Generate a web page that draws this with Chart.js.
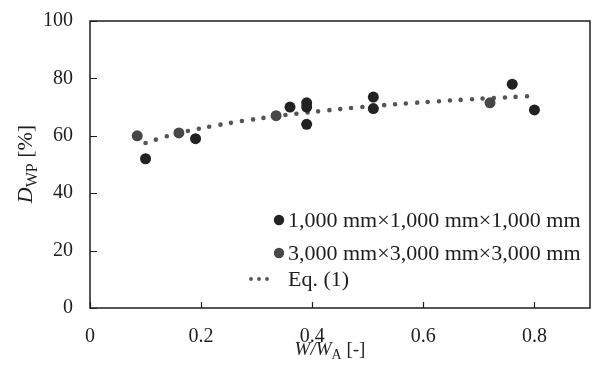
<!DOCTYPE html>
<html>
<head>
<meta charset="utf-8">
<script src="https://cdn.jsdelivr.net/npm/chart.js@4.4.1/dist/chart.umd.min.js"></script>
<style>
  html, body { margin: 0; padding: 0; background: #fff; }
  #wrap { width: 596px; height: 369px; }
</style>
</head>
<body>
<div id="wrap"><canvas id="dwpChart"></canvas></div>
<script>
// datos
const smallLabel = "1,000 mm×1,000 mm×1,000 mm";
const smallX = [0.10, 0.19, 0.36, 0.39, 0.39, 0.39, 0.51, 0.51, 0.76, 0.80];
const smallY = [52, 59, 70, 71.5, 70, 64, 73.5, 69.5, 78, 69];

const largeLabel = "3,000 mm×3,000 mm×3,000 mm";
const largeX = [0.085, 0.16, 0.335, 0.72];
const largeY = [60, 61, 67, 71.5];

const eqLabel = "Eq. (1)";
const eqX = [0.10, 0.15, 0.20, 0.25, 0.30, 0.35, 0.40, 0.45, 0.50, 0.55, 0.60, 0.65, 0.70, 0.75, 0.80];
const eqY = [57.5, 60.5, 62.6, 64.4, 65.9, 67.2, 68.3, 69.3, 70.2, 71.0, 71.7, 72.3, 72.9, 73.4, 73.9];

const xTicks = [0, 0.2, 0.4, 0.6, 0.8];
const yTicks = [0, 20, 40, 60, 80, 100];

const SERIF = "'Liberation Serif', 'Times New Roman', serif";
const INK = "#1e1e1e";

function toPoints(xs, ys) {
    return xs.map((x, i) => ({ x: x, y: ys[i] }));
}

// marco, marcas hacia dentro, titulos de ejes y leyenda
const decorPlugin = {
    id: "decor",
    afterDraw(chart) {
        const ctx = chart.ctx;
        const a = chart.chartArea;
        const xs = chart.scales.x;
        const ys = chart.scales.y;
        ctx.save();
        ctx.strokeStyle = INK;
        ctx.lineWidth = 1.5;
        ctx.strokeRect(a.left, a.top, a.right - a.left, a.bottom - a.top);

        ctx.lineWidth = 1.2;
        ctx.beginPath();
        yTicks.forEach(v => {
            const py = Math.round(ys.getPixelForValue(v)) + 0.5;
            ctx.moveTo(a.left, py);
            ctx.lineTo(a.left + 7, py);
        });
        xTicks.forEach(v => {
            const px = Math.round(xs.getPixelForValue(v)) + 0.5;
            ctx.moveTo(px, a.bottom);
            ctx.lineTo(px, a.bottom - 6);
        });
        ctx.stroke();

        ctx.fillStyle = INK;
        ctx.textBaseline = "alphabetic";

        // titulo eje x: W/W_A [-]
        const xParts = [
            { t: "W/W", f: "italic 19px " + SERIF, dy: 0 },
            { t: "A", f: "14px " + SERIF, dy: 4 },
            { t: " [-]", f: "19px " + SERIF, dy: 0 }
        ];
        drawParts(ctx, xParts, 330, 355);

        // titulo eje y: D_WP [%]
        ctx.save();
        ctx.translate(32, 164);
        ctx.rotate(-Math.PI / 2);
        const yParts = [
            { t: "D", f: "italic 22px " + SERIF, dy: 0 },
            { t: "WP", f: "16px " + SERIF, dy: 5 },
            { t: " [%]", f: "22px " + SERIF, dy: 0 }
        ];
        drawParts(ctx, yParts, 0, 0);
        ctx.restore();

        // leyenda
        const lx = 288;
        const rows = [220, 253, 279];
        ctx.font = "22px " + SERIF;
        ctx.textBaseline = "middle";
        chart.data.datasets.forEach((ds, i) => {
            const y = rows[i];
            if (ds.showLine) {
                ctx.fillStyle = ds.borderColor;
                [251, 259, 267].forEach(dx => {
                    ctx.beginPath();
                    ctx.arc(dx, y, 1.9, 0, Math.PI * 2);
                    ctx.fill();
                });
            } else {
                ctx.fillStyle = ds.backgroundColor;
                ctx.beginPath();
                ctx.arc(lx - 9, y, 5.2, 0, Math.PI * 2);
                ctx.fill();
            }
            ctx.fillStyle = INK;
            ctx.fillText(ds.label, lx, y + 1);
        });
        ctx.restore();
    }
};

function drawParts(ctx, parts, cx, baseY) {
    let total = 0;
    parts.forEach(p => { ctx.font = p.f; total += ctx.measureText(p.t).width; });
    let x = cx - total / 2;
    parts.forEach(p => {
        ctx.font = p.f;
        ctx.fillText(p.t, x, baseY + p.dy);
        x += ctx.measureText(p.t).width;
    });
}

const ctx = document.getElementById("dwpChart").getContext("2d");
const dwpChart = new Chart(ctx, {
    type: "scatter",
    data: {
        datasets: [
            {
                label: smallLabel,
                data: toPoints(smallX, smallY),
                backgroundColor: "#222222",
                borderColor: "#222222",
                pointRadius: 5.5,
                pointBorderWidth: 0
            },
            {
                label: largeLabel,
                data: toPoints(largeX, largeY),
                backgroundColor: "#474747",
                borderColor: "#474747",
                pointRadius: 5.5,
                pointBorderWidth: 0
            },
            {
                label: eqLabel,
                data: toPoints(eqX, eqY),
                showLine: true,
                pointRadius: 0,
                borderColor: "#555555",
                borderWidth: 4.6,
                borderDash: [0, 11],
                borderCapStyle: "round",
                tension: 0.3
            }
        ]
    },
    options: {
        responsive: true,
        maintainAspectRatio: false,
        animation: false,
        events: [],
        layout: { padding: { left: 0, right: 6, top: 18, bottom: 0 } },
        plugins: {
            legend: { display: false },
            tooltip: { enabled: false }
        },
        scales: {
            x: {
                type: "linear",
                min: 0,
                max: 0.9,
                grid: { display: false },
                border: { display: false },
                afterBuildTicks: s => { s.ticks = xTicks.map(v => ({ value: v })); },
                afterFit: s => { s.height = 61; },
                ticks: {
                    padding: 9,
                    color: INK,
                    font: { family: SERIF, size: 20 },
                    callback: v => String(v)
                }
            },
            y: {
                min: 0,
                max: 100,
                grid: { display: false },
                border: { display: false },
                afterBuildTicks: s => { s.ticks = yTicks.map(v => ({ value: v })); },
                afterFit: s => { s.width = 90; },
                ticks: {
                    padding: 9,
                    color: INK,
                    font: { family: SERIF, size: 20 }
                }
            }
        }
    },
    plugins: [decorPlugin]
});
</script>
</body>
</html>
